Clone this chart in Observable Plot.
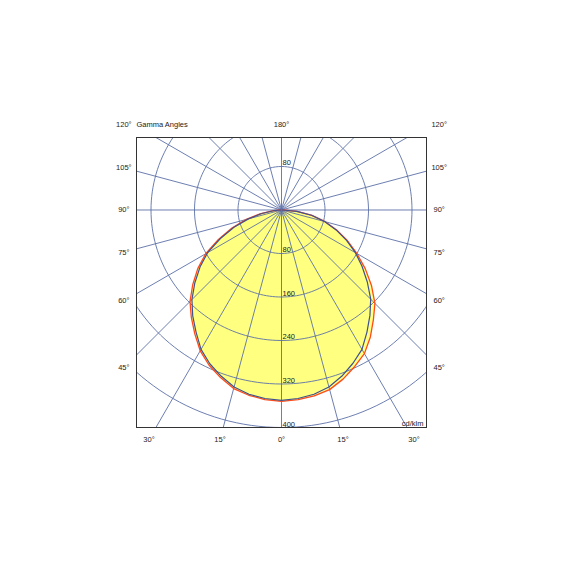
<!DOCTYPE html>
<html>
<head>
<meta charset="utf-8">
<script src="https://cdn.jsdelivr.net/npm/d3@7"></script>
<script src="https://cdn.jsdelivr.net/npm/@observablehq/plot@0.6"></script>
<style>
  html, body { margin: 0; padding: 0; background: #fff; }
  #chart { width: 570px; height: 570px; }
  svg { display: block; }
</style>
</head>
<body>
<div id="chart"></div>
<script>
// Gamma angles (degrees from nadir) of the measured intensities
const gammaDeg = [0, 5, 10, 15, 20, 25, 30, 35, 40, 45, 50, 55, 60, 65, 70, 75, 80, 85, 90];
// C0 half-plane (right, red) in cd/klm
const c0Values   = [352, 350, 347, 342, 331, 318, 305, 285, 263, 243, 216, 188, 160, 134, 108, 83, 57, 29, 3];
// C180 half-plane (left, red) in cd/klm
const c180Values = [352, 350, 346, 340, 328, 315, 299, 278, 258, 238, 213, 188, 161, 128, 97, 67, 40, 17, 3];
// C90 half-plane (right, blue) in cd/klm
const c90Values  = [350, 348, 344, 337, 325, 311, 296, 274, 253, 232, 206, 181, 157, 132, 107, 82, 56, 28, 2];
// C270 half-plane (left, blue) in cd/klm
const c270Values = [350, 348, 344, 337, 325, 312, 296, 274, 254, 233, 208, 183, 157, 124, 93, 63, 37, 15, 2];

// Grid
const ringValues = [80, 160, 240, 320, 400];
const ringLabels = ["80", "160", "240", "320", "400"];
const spokeAngles = d3.range(0, 360, 15);

// Angle labels
const sideAngles = [105, 90, 75, 60, 45];
const sideLabels = ["105°", "90°", "75°", "60°", "45°"];
const bottomAngles = [-30, -15, 0, 15, 30];
const bottomLabels = ["30°", "15°", "0°", "15°", "30°"];
const topLabels = ["120°", "180°", "120°"];
const unitLabel = "cd/klm";
const titleLabel = "Gamma Angles";

const rad = d => d * Math.PI / 180;
const polar = (I, g, side) => ({x: side * I * Math.sin(rad(g)), y: -I * Math.cos(rad(g))});

// Closed outlines: right half from 90° down to 0°, then left half from 0° up to 90°
function outline(rightVals, leftVals) {
  const pts = [];
  for (let i = gammaDeg.length - 1; i >= 0; i--) pts.push(polar(rightVals[i], gammaDeg[i], 1));
  for (let i = 0; i < gammaDeg.length; i++) pts.push(polar(leftVals[i], gammaDeg[i], -1));
  return pts;
}
const redPts = outline(c0Values, c180Values);
const bluePts = outline(c90Values, c270Values);

const ringPts = ringValues.flatMap(r => d3.range(0, 361, 2).map(a => ({r, ...polar(r, a, 1)})));
const spokePts = spokeAngles.flatMap(a => [{a, x: 0, y: 0}, {a, ...polar(1000, a, 1)}]);

const sideX = 290, topY = 157.2, bottomY = -422;
const sideText = sideAngles.flatMap((g, i) => [
  {x: -sideX, y: -sideX / Math.tan(rad(g)), t: sideLabels[i]},
  {x: sideX, y: -sideX / Math.tan(rad(g)), t: sideLabels[i]}
]);
const bottomText = bottomAngles.map((g, i) => ({x: -bottomY * Math.tan(rad(g)), y: bottomY, t: bottomLabels[i]}));
const topText = [{x: -sideX, y: topY, t: topLabels[0]}, {x: 0, y: topY, t: topLabels[1]}, {x: sideX, y: topY, t: topLabels[2]}];
const ringText = [{r: ringValues[0], y: ringValues[0], t: ringLabels[0]}]
  .concat(ringValues.map((r, i) => ({r, y: -r, t: ringLabels[i]})));

const gridColor = "#5c70a8";
const font = "Liberation Sans, Arial, sans-serif";

const chart = Plot.plot({
  width: 570,
  height: 570,
  marginLeft: 136,
  marginRight: 144,
  marginTop: 137,
  marginBottom: 143,
  style: {fontFamily: font, background: "#fff"},
  x: {domain: [-266.67, 266.67], axis: null},
  y: {domain: [-400, 133.33], axis: null},
  marks: [
    Plot.line(redPts, {x: "x", y: "y", fill: "#ffff80", stroke: "none", clip: true}),
    Plot.line(ringPts, {x: "x", y: "y", z: "r", stroke: gridColor, strokeWidth: 0.9, clip: true}),
    Plot.line(spokePts, {x: "x", y: "y", z: "a", stroke: gridColor, strokeWidth: 0.9, clip: true}),
    Plot.line(redPts, {x: "x", y: "y", stroke: "#ff4a1c", strokeWidth: 1.3, clip: true}),
    Plot.line(bluePts, {x: "x", y: "y", stroke: "#3f5290", strokeWidth: 1.2, clip: true}),
    Plot.text(ringText, {x: () => 0, y: "y", text: "t", textAnchor: "start", lineAnchor: "bottom", dx: 1, dy: -1, fontSize: 7.5, fill: "#222"}),
    Plot.text([unitLabel], {x: () => 266.67, y: () => -400, text: d => d, textAnchor: "end", lineAnchor: "bottom", dx: -3, dy: -2, fontSize: 7.5, fill: "#222"}),
    Plot.text(sideText, {x: "x", y: "y", text: "t", fontSize: 7.5, fill: "#222"}),
    Plot.text(bottomText, {x: "x", y: "y", text: "t", fontSize: 7.5, fill: "#222"}),
    Plot.text(topText, {x: "x", y: "y", text: "t", fontSize: 7.5, fill: "#222"}),
    Plot.text([titleLabel], {x: () => -266.67, y: () => topY, text: d => d, textAnchor: "start", fontSize: 7.5, fill: "#222"}),
    Plot.frame({stroke: "#333", strokeWidth: 1})
  ]
});
document.getElementById("chart").appendChild(chart);
</script>
</body>
</html>
